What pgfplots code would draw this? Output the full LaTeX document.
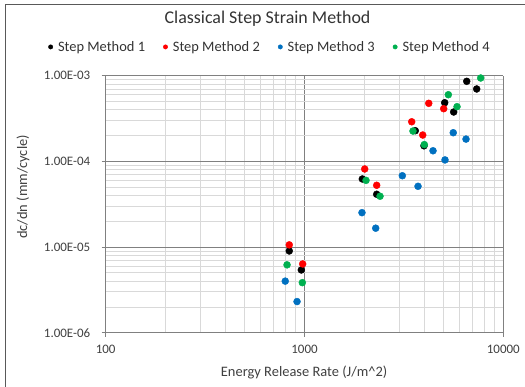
\documentclass[border=0pt]{standalone}
\usepackage{pgfplots}
\pgfplotsset{compat=1.18}
\usepackage{fontspec}
\setmainfont{Carlito}
\definecolor{sblue}{HTML}{0070C0}
\definecolor{sgreen}{HTML}{00B050}
\definecolor{sred}{HTML}{FF0000}
\definecolor{majg}{HTML}{808080}
\definecolor{ming}{HTML}{D9D9D9}
\definecolor{frameg}{HTML}{595959}
\begin{document}
\begin{tikzpicture}[x=1bp,y=1bp]
\useasboundingbox (0,0) rectangle (525,386);
\draw[frameg, line width=1bp] (5,-10) -- (5,381) -- (540,381);
\begin{axis}[
  at={(105.7bp,53.3bp)}, anchor=south west,
  scale only axis, width=397.6bp, height=257bp,
  xmode=log, ymode=log,
  xmin=100, xmax=10000, ymin=1e-6, ymax=1e-3,
  xtick={100,1000,10000}, xticklabels={100,1000,10000},
  ytick={1e-6,1e-5,1e-4,1e-3}, yticklabels={1.00E-06,1.00E-05,1.00E-04,1.00E-03},
  axis lines*=left,
  axis line style={color=majg, line width=0.8bp},
  tick style={color=majg, line width=0.8bp},
  major tick length=4bp, minor tick length=0pt,
  tick align=outside,
  grid=both,
  major grid style={color=majg, line width=0.8bp},
  minor grid style={color=ming, line width=0.8bp},
  ticklabel style={font=\fontsize{13}{14}\selectfont, text=black!75},
  xticklabel style={yshift=-5bp},
  yticklabel style={xshift=-8bp},
  xlabel={Energy Release Rate (J/m\^{}2)},
  ylabel={dc/dn (mm/cycle)},
  label style={font=\fontsize{14.5}{16}\selectfont, text=black!75},
  xlabel style={at={(rel axis cs:0.499,-0.156)}, anchor=center},
  ylabel style={at={(rel axis cs:-0.208,0.567)}, anchor=center},
  title={Classical Step Strain Method},
  title style={font=\fontsize{18}{20}\selectfont, text=black!80, at={(0.407,1.197)}, anchor=center},
  legend columns=4,
  legend style={draw=none, fill=none, at={(0.413,1.112)}, anchor=center,
    font=\fontsize{14.5}{15}\selectfont, text=black!80,
    /tikz/every odd column/.append style={column sep=3bp},
    /tikz/every even column/.append style={column sep=16bp}},
  legend image code/.code={\fill (0bp,0bp) circle (2.2bp);},
  every axis plot/.append style={only marks, mark=*, mark size=3.5bp},
  clip=false,
]
\addplot[black, mark options={fill=black, draw=black}] coordinates {
 (6546,8.6e-4) (7348,7.0e-4) (5072,4.84e-4) (5628,3.77e-4) (3608,2.28e-4)
 (3991,1.52e-4) (1954,6.23e-5) (2307,4.13e-5) (838,9.0e-6) (964,5.4e-6)};
\addlegendentry{Step Method 1}
\addplot[sred, mark options={fill=sred, draw=sred}] coordinates {
 (4217,4.76e-4) (5013,4.12e-4) (3461,2.90e-4) (3933,2.03e-4) (2008,8.15e-5)
 (2307,5.26e-5) (838,1.06e-5) (979,6.35e-6)};
\addlegendentry{Step Method 2}
\addplot[sblue, mark options={fill=sblue, draw=sblue}] coordinates {
 (5600,2.16e-4) (6492,1.82e-4) (4430,1.33e-4) (5090,1.04e-4) (3105,6.8e-5)
 (3724,5.12e-5) (1946,2.52e-5) (2281,1.66e-5) (800,4.0e-6) (917,2.31e-6)};
\addlegendentry{Step Method 3}
\addplot[sgreen, mark options={fill=sgreen, draw=sgreen}] coordinates {
 (7696,9.4e-4) (5290,6.0e-4) (5850,4.35e-4) (3513,2.26e-4) (4006,1.57e-4)
 (2039,6.0e-5) (2398,3.92e-5) (817,6.2e-6) (975,3.84e-6)};
\addlegendentry{Step Method 4}
\end{axis}
\end{tikzpicture}
\end{document}
